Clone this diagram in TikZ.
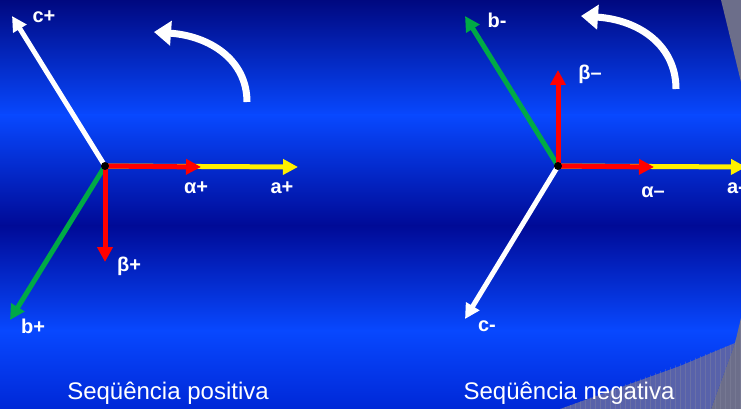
\documentclass[tikz,border=0pt]{standalone}
\usepackage{fontspec}
\setmainfont{Liberation Sans}
\usetikzlibrary{arrows.meta}

\definecolor{bgdark}{RGB}{0,8,128}
\definecolor{bgband}{RGB}{0,10,150}
\definecolor{bgbright}{RGB}{8,72,255}
\definecolor{bglow}{RGB}{0,40,215}
\definecolor{greyA}{RGB}{88,98,170}
\definecolor{greyB}{RGB}{108,110,138}
\definecolor{phasegreen}{RGB}{0,170,70}
\definecolor{phaseyellow}{RGB}{255,240,0}
\definecolor{axisred}{RGB}{255,0,0}

\begin{document}
\begin{tikzpicture}[x=1pt, y=-1pt,
    phasor/.style={-{Triangle[length=15pt, width=15pt]}, line width=5pt},
    turn/.style={-{Triangle[length=17pt, width=24pt]}, line width=7pt, white},
    lbl/.style={font=\fontsize{20}{20}\selectfont\bfseries, text=white, inner sep=0pt},
    caption/.style={font=\fontsize{24}{24}\selectfont, text=white, inner sep=0pt}]

\useasboundingbox (0,0) rectangle (741,409);
\clip (0,0) rectangle (741,409);

% ===================== BACKGROUND =====================
\shade[top color=bgdark, bottom color=bgbright] (0,0) rectangle (741,116);
\shade[top color=bgbright, bottom color=bgband] (0,115) rectangle (741,226);
\shade[top color=bgband, bottom color=bgbright] (0,225) rectangle (741,331);
\shade[top color=bgbright, bottom color=bglow] (0,330) rectangle (741,409);

% grey corner pieces
\fill[greyB] (721,0) -- (741,0) -- (741,82) -- cycle;
\fill[greyA] (560,409) -- (680,366) -- (735,343) -- (711,409) -- cycle;
\fill[greyB] (711,409) -- (735,343) -- (741,318) -- (741,409) -- cycle;
\begin{scope}
    \clip (560,409) -- (735,343) -- (741,318) -- (741,409) -- cycle;
    \draw[greyB!80!white, opacity=0.35, very thin, step=5] (540,300) grid (741,409);
\end{scope}

% ===================== LEFT: POSITIVE SEQUENCE =====================
\coordinate (O1) at (105,166);
\coordinate (a1) at (298,167);
\coordinate (al1) at (201,167);
\coordinate (be1) at (105,262);
\coordinate (b1) at (10,320);
\coordinate (c1) at (12,16);
\coordinate (r1s) at (247,102);
\coordinate (r1e) at (154,32);

\draw[phasor, phaseyellow] (O1) -- (a1);
\draw[phasor, white] (O1) -- (c1);
\draw[phasor, phasegreen] (O1) -- (b1);
\draw[phasor, axisred] (O1) -- (al1);
\draw[phasor, axisred] (O1) -- (be1);
\fill[black] (O1) circle (4);

\draw[turn] (r1s) .. controls (247,60) and (210,36) .. (r1e);

\node[lbl] (lc1) at (44,17) {c+};
\node[lbl] (la1) at (282,188) {a+};
\node[lbl] (lal1) at (196,188) {α+};
\node[lbl] (lbe1) at (129,266) {β+};
\node[lbl] (lb1) at (33,326) {b+};
\node[caption] (cap1) at (168,393) {Seqüência positiva};

% ===================== RIGHT: NEGATIVE SEQUENCE =====================
\coordinate (O2) at (558,166);
\coordinate (a2) at (746,167);
\coordinate (al2) at (654,167);
\coordinate (be2) at (558,70);
\coordinate (b2) at (465,16);
\coordinate (c2) at (465,319);
\coordinate (r2s) at (676,89);
\coordinate (r2e) at (581,16);

\draw[phasor, phaseyellow] (O2) -- (a2);
\draw[phasor, white] (O2) -- (c2);
\draw[phasor, phasegreen] (O2) -- (b2);
\draw[phasor, axisred] (O2) -- (al2);
\draw[phasor, axisred] (O2) -- (be2);
\fill[black] (O2) circle (4);

\draw[turn] (r2s) .. controls (676,46) and (640,20) .. (r2e);

\node[lbl] (lb2) at (497,20) {b-};
\node[lbl] (lbe2) at (590,74) {β–};
\node[lbl] (lal2) at (653,192) {α–};
\node[lbl] (la2) at (736,188) {a-};
\node[lbl] (lc2) at (487,326) {c-};
\node[caption] (cap2) at (569,393) {Seqüência negativa};

\end{tikzpicture}
\end{document}
